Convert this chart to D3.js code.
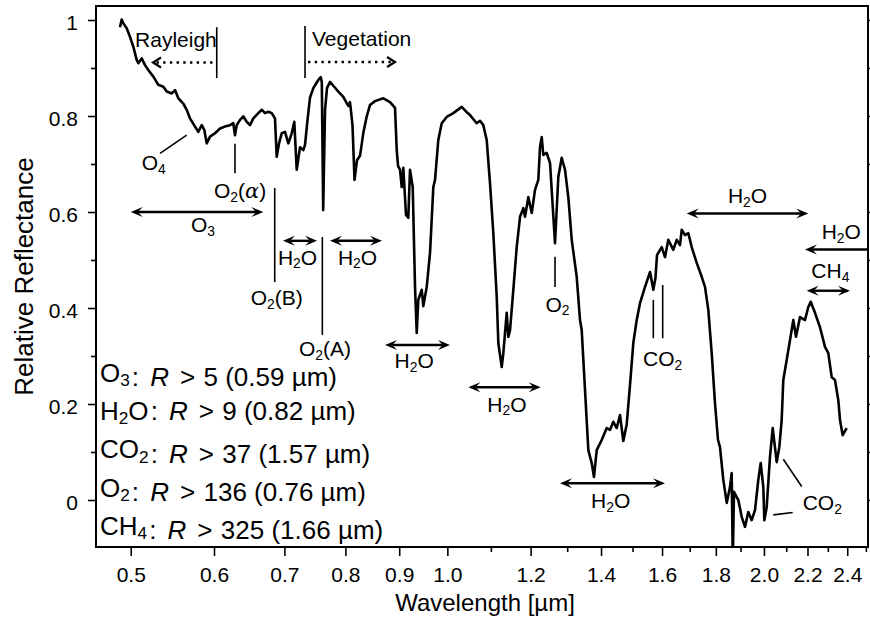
<!DOCTYPE html>
<html>
<head>
<meta charset="utf-8">
<script src="https://cdn.jsdelivr.net/npm/d3@7"></script>
<style>
  body { margin: 0; background: #fff; }
  svg text { font-family: "Liberation Sans", Arial, Helvetica, sans-serif; fill: #000; }
</style>
</head>
<body>
<svg id="chart" width="870" height="623"></svg>
<script>
// Earthshine reflectance spectrum (relative reflectance vs wavelength in µm)
const wavelength = [
  0.4884,0.4902,0.4920,0.4956,0.4992,0.5029,0.5066,0.5084,0.5122,0.5159,
  0.5196,0.5254,0.5311,0.5370,0.5410,0.5470,0.5509,0.5549,0.5610,0.5652,
  0.5693,0.5756,0.5797,0.5841,0.5874,0.5905,0.5948,0.6013,0.6080,0.6146,
  0.6214,0.6259,0.6282,0.6306,0.6352,0.6398,0.6445,0.6492,0.6539,0.6611,
  0.6661,0.6709,0.6757,0.6808,0.6857,0.6883,0.6918,0.6959,0.7009,0.7060,
  0.7113,0.7153,0.7191,0.7243,0.7296,0.7323,0.7363,0.7403,0.7457,0.7539,
  0.7579,0.7597,0.7620,0.7651,0.7684,0.7735,0.7791,0.7877,0.7963,0.8023,
  0.8051,0.8081,0.8125,0.8161,0.8206,0.8260,0.8320,0.8382,0.8443,0.8536,
  0.8692,0.8821,0.8918,0.8951,0.8977,0.9016,0.9050,0.9081,0.9135,0.9181,
  0.9215,0.9270,0.9317,0.9352,0.9384,0.9455,0.9488,0.9559,0.9628,0.9698,
  0.9734,0.9804,0.9878,0.9986,1.0132,1.0320,1.0433,1.0509,1.0664,1.0742,
  1.0819,1.0900,1.0979,1.1059,1.1142,1.1181,1.1264,1.1304,1.1388,1.1428,
  1.1471,1.1554,1.1640,1.1725,1.1810,1.1854,1.1940,1.2029,1.2116,1.2204,
  1.2249,1.2295,1.2338,1.2430,1.2521,1.2658,1.2750,1.2845,1.2938,1.3032,
  1.3130,1.3274,1.3370,1.3420,1.3518,1.3616,1.3717,1.3786,1.3868,1.4021,
  1.4175,1.4278,1.4381,1.4489,1.4594,1.4700,1.4810,1.4917,1.5025,1.5137,
  1.5247,1.5415,1.5585,1.5698,1.5773,1.5825,1.5988,1.6104,1.6221,1.6400,
  1.6522,1.6642,1.6704,1.6825,1.6947,1.7074,1.7262,1.7452,1.7578,1.7706,
  1.7838,1.7967,1.8086,1.8165,1.8297,1.8434,1.8567,1.8636,1.8681,1.8730,
  1.8841,1.8908,1.9049,1.9187,1.9326,1.9470,1.9612,1.9754,1.9858,1.9972,
  2.0016,2.0120,2.0266,2.0386,2.0566,2.0684,2.0792,2.0865,2.1021,2.1173,
  2.1327,2.1453,2.1642,2.1880,2.2039,2.2155,2.2364,2.2610,2.2859,2.3025,
  2.3197,2.3365,2.3535,2.3622,2.3762,2.3972
];
const reflectance = [
  0.985,1.001,0.993,0.983,0.965,0.944,0.917,0.910,0.920,0.906,
  0.896,0.882,0.865,0.861,0.851,0.847,0.854,0.837,0.826,0.813,
  0.795,0.778,0.767,0.781,0.771,0.743,0.757,0.764,0.774,0.778,
  0.781,0.785,0.760,0.781,0.792,0.799,0.788,0.781,0.795,0.806,
  0.813,0.806,0.809,0.806,0.795,0.715,0.743,0.764,0.767,0.743,
  0.764,0.788,0.688,0.735,0.729,0.740,0.792,0.838,0.858,0.875,
  0.881,0.871,0.604,0.813,0.858,0.871,0.863,0.851,0.840,0.827,
  0.821,0.829,0.781,0.667,0.708,0.717,0.765,0.799,0.823,0.831,
  0.837,0.829,0.817,0.729,0.696,0.688,0.652,0.692,0.594,0.588,
  0.688,0.652,0.444,0.348,0.417,0.438,0.404,0.444,0.515,0.652,
  0.667,0.750,0.785,0.798,0.806,0.819,0.808,0.802,0.785,0.790,
  0.781,0.750,0.660,0.556,0.423,0.327,0.277,0.306,0.390,0.340,
  0.354,0.438,0.527,0.590,0.608,0.590,0.631,0.598,0.646,0.667,
  0.735,0.756,0.719,0.723,0.702,0.535,0.673,0.713,0.688,0.631,
  0.542,0.465,0.375,0.354,0.229,0.104,0.077,0.048,0.104,0.125,
  0.150,0.146,0.163,0.150,0.177,0.123,0.158,0.240,0.327,0.375,
  0.410,0.444,0.475,0.438,0.463,0.510,0.527,0.506,0.542,0.521,
  0.542,0.531,0.563,0.552,0.556,0.527,0.494,0.465,0.444,0.396,
  0.306,0.202,0.125,0.110,0.042,-0.006,0.027,0.056,-0.125,0.017,
  0.006,0.000,-0.035,-0.056,-0.025,-0.042,-0.021,0.042,0.077,0.027,
  -0.042,-0.015,0.090,0.150,0.079,0.110,0.167,0.250,0.292,0.333,
  0.375,0.340,0.381,0.375,0.402,0.413,0.390,0.360,0.319,0.306,
  0.256,0.250,0.208,0.167,0.135,0.150
];

// Axis ticks
const xTicks = [0.5,0.6,0.7,0.8,0.9,1.0,1.2,1.4,1.6,1.8,2.0,2.2,2.4];
const xMinorTicks = [1.1,1.3,1.5,1.7,1.9,2.1,2.3,2.5];
const yTicks = [0,0.2,0.4,0.6,0.8,1];
const yMinorTicks = [0.1,0.3,0.5,0.7,0.9];

// Absorption-band arrows: [start µm, end µm, reflectance level, heads]
const bandArrows = [
  [0.5000, 0.6684, 0.600, "both"],
  [0.6978, 0.7518, 0.540, "both"],
  [0.7735, 0.8667, 0.540, "both"],
  [0.8725, 1.0058, 0.323, "both"],
  [1.0470, 1.2268, 0.235, "both"],
  [1.2797, 1.6104, 0.035, "both"],
  [1.6888, 2.2038, 0.597, "both"],
  [2.1961, 2.4144, 0.436, "both"],
  [2.1879, 2.5116, 0.522, "start"]
];

// Dotted trend arrows: [from µm, to µm (arrow tip), reflectance level]
const trendArrows = [
  [0.598, 0.5250, 0.9115],
  [0.7371, 0.8918, 0.9125]
];

// Marker lines: [µm, R, µm, R]
const markerLines = [
  [0.6036, 0.985, 0.6036, 0.879],
  [0.7323, 0.9875, 0.7323, 0.879],
  [0.5652, 0.760, 0.5331, 0.722],
  [0.6282, 0.742, 0.6282, 0.681],
  [0.6853, 0.650, 0.6853, 0.454],
  [0.7606, 0.548, 0.7606, 0.344],
  [1.2658, 0.507, 1.2658, 0.444],
  [1.5698, 0.417, 1.5698, 0.337],
  [1.6023, 0.448, 1.6023, 0.337],
  [2.0865, 0.085, 2.1722, 0.028],
  [2.0414, -0.031, 2.1299, -0.026]
];

// Feature labels: [text, µm, R (baseline), anchor]
const featureLabels = [
  ["Rayleigh",   0.5048, 0.944, "start"],
  ["Vegetation", 0.7436, 0.946, "start"],
  ["O_4",        0.5122, 0.6875, "start"],
  ["O_2(α)",     0.6000, 0.629, "start"],
  ["O_3",        0.5857, 0.558, "middle"],
  ["O_2(B)",     0.6883, 0.406, "middle"],
  ["H_2O",       0.7204, 0.490, "middle"],
  ["O_2(A)",     0.7651, 0.300, "middle"],
  ["H_2O",       0.8215, 0.490, "middle"],
  ["H_2O",       0.9300, 0.275, "middle"],
  ["H_2O",       1.1394, 0.184, "middle"],
  ["O_2",        1.2727, 0.392, "middle"],
  ["H_2O",       1.4299, -0.017, "middle"],
  ["CO_2",       1.6023, 0.279, "middle"],
  ["H_2O",       1.9293, 0.618, "middle"],
  ["H_2O",       2.2695, 0.543, "start"],
  ["CH_4",       2.3127, 0.462, "middle"],
  ["CO_2",       2.1770, -0.021, "start"]
];

// Detectability summary
const legendSpecies = ["O_3", "H_2O", "CO_2", "O_2", "CH_4"];
const legendThreshold = ["5", "9", "37", "136", "325"];
const legendBand = ["0.59", "0.82", "1.57", "0.76", "1.66"];

// ---------------------------------------------------------------
const plot = { left: 96, right: 868, top: 6, bottom: 547 };
const svg = d3.select("#chart");

const x = d3.scaleLog().domain([0.4634, 2.5116]).range([plot.left, plot.right]);
const y = d3.scaleLinear().domain([-0.0979, 1.0292]).range([plot.bottom, plot.top]);

svg.append("defs").append("clipPath").attr("id", "plotClip")
  .append("rect")
  .attr("x", plot.left).attr("y", plot.top)
  .attr("width", plot.right - plot.left).attr("height", plot.bottom - plot.top);

// Formula text with subscripts ("H_2O") and italic Greek letters
function writeFormula(sel, formula, size) {
  const tokens = formula.match(/_\d|[α]|[^_α]+/g);
  let shifted = false;
  const sub = size * 0.17;
  tokens.forEach(tok => {
    const t = sel.append("tspan");
    if (tok[0] === "_") {
      t.text(tok.slice(1)).attr("font-size", size * 0.66);
      if (!shifted) { t.attr("dy", sub); shifted = true; }
    } else {
      t.text(tok);
      if (shifted) { t.attr("dy", -sub); shifted = false; }
      if (tok === "α") t.attr("font-style", "italic").attr("font-family", "'DejaVu Serif', serif");
    }
  });
}

// Axes -----------------------------------------------------------
const tickStroke = 1.6;
const fmtY = d => (d === 0 ? "0" : d === 1 ? "1" : d3.format(".1f")(d));

const gyL = svg.append("g").attr("transform", `translate(${plot.left},0)`)
  .call(d3.axisLeft(y).tickValues(yTicks).tickSize(8).tickFormat(fmtY));
gyL.select(".domain").remove();
gyL.selectAll("line").attr("stroke-width", tickStroke);
gyL.selectAll("text").attr("font-size", 21).attr("x", -18).attr("dy", "0.45em")
  .style("font-family", "'Liberation Sans', Arial, sans-serif");

const gyLm = svg.append("g").attr("transform", `translate(${plot.left},0)`)
  .call(d3.axisLeft(y).tickValues(yMinorTicks).tickSize(5).tickFormat(""));
gyLm.select(".domain").remove();
gyLm.selectAll("line").attr("stroke-width", tickStroke);

const gyR = svg.append("g").attr("transform", `translate(${plot.right},0)`)
  .call(d3.axisRight(y).tickValues(yTicks).tickSize(8).tickFormat(""));
gyR.select(".domain").remove();
gyR.selectAll("line").attr("stroke-width", tickStroke);
const gyRm = svg.append("g").attr("transform", `translate(${plot.right},0)`)
  .call(d3.axisRight(y).tickValues(yMinorTicks).tickSize(5).tickFormat(""));
gyRm.select(".domain").remove();
gyRm.selectAll("line").attr("stroke-width", tickStroke);

const gx = svg.append("g").attr("transform", `translate(0,${plot.bottom})`)
  .call(d3.axisBottom(x).tickValues(xTicks).tickSize(9).tickFormat(d3.format(".1f")));
gx.select(".domain").remove();
gx.selectAll("line").attr("stroke-width", tickStroke);
gx.selectAll("text").attr("font-size", 21).attr("y", 34.5).attr("dy", null)
  .style("font-family", "'Liberation Sans', Arial, sans-serif");

const gxm = svg.append("g").attr("transform", `translate(0,${plot.bottom})`)
  .call(d3.axisBottom(x).tickValues(xMinorTicks).tickSize(5).tickFormat(""));
gxm.select(".domain").remove();
gxm.selectAll("line").attr("stroke-width", tickStroke);

// Axis titles
svg.append("text")
  .attr("transform", `translate(32.5,${(plot.top + plot.bottom) / 2}) rotate(-90)`)
  .attr("text-anchor", "middle").attr("font-size", 26)
  .text("Relative Reflectance");
svg.append("text")
  .attr("x", 485).attr("y", 611)
  .attr("text-anchor", "middle").attr("font-size", 24)
  .text("Wavelength [µm]");

// Spectrum -------------------------------------------------------
const spectrum = wavelength.map((w, i) => [w, reflectance[i]]);
svg.append("path")
  .datum(spectrum)
  .attr("clip-path", "url(#plotClip)")
  .attr("fill", "none").attr("stroke", "#000")
  .attr("stroke-width", 2.6).attr("stroke-linejoin", "round")
  .attr("d", d3.line().x(d => x(d[0])).y(d => y(d[1])));

// Annotations ----------------------------------------------------
const ann = svg.append("g");

ann.selectAll("line.marker").data(markerLines).join("line")
  .attr("class", "marker")
  .attr("x1", d => x(d[0])).attr("y1", d => y(d[1]))
  .attr("x2", d => x(d[2])).attr("y2", d => y(d[3]))
  .attr("stroke", "#000").attr("stroke-width", 1.6);

const headL = 12, headW = 5;
function filledHead(g, tx, ty, dir) {
  g.append("path")
    .attr("d", `M${tx},${ty} L${tx - dir * headL},${ty - headW} L${tx - dir * headL * 0.6},${ty} L${tx - dir * headL},${ty + headW} Z`)
    .attr("fill", "#000");
}
bandArrows.forEach(([a, b, r, heads]) => {
  const x0 = x(a), x1 = Math.min(x(b), plot.right), yy = y(r);
  const startHead = heads === "both" || heads === "start";
  const endHead = heads === "both" || heads === "end";
  ann.append("line")
    .attr("x1", x0 + (startHead ? headL * 0.6 : 0)).attr("x2", x1 - (endHead ? headL * 0.6 : 0))
    .attr("y1", yy).attr("y2", yy)
    .attr("stroke", "#000").attr("stroke-width", 2.4);
  if (startHead) filledHead(ann, x0, yy, -1);
  if (endHead) filledHead(ann, x1, yy, 1);
});

trendArrows.forEach(([from, to, r]) => {
  const x0 = x(from), x1 = x(to), yy = y(r);
  const dir = Math.sign(x1 - x0);
  ann.append("line")
    .attr("x1", x0).attr("x2", x1 - dir * 3).attr("y1", yy).attr("y2", yy)
    .attr("stroke", "#000").attr("stroke-width", 2.4)
    .attr("stroke-dasharray", "2.4 4.3");
  ann.append("path")
    .attr("d", `M${x1 - dir * 8},${yy - 5} L${x1},${yy} L${x1 - dir * 8},${yy + 5}`)
    .attr("fill", "none").attr("stroke", "#000").attr("stroke-width", 2.2);
});

featureLabels.forEach(([txt, w, r, anchor]) => {
  const t = ann.append("text")
    .attr("x", x(w)).attr("y", y(r))
    .attr("text-anchor", anchor).attr("font-size", 21);
  writeFormula(t, txt, 21);
});

// Detectability summary ------------------------------------------
const legendSize = 26;
const legendBaseline0 = 381.7, legendStep = 38.3;
legendSpecies.forEach((sp, i) => {
  const t = svg.append("text")
    .attr("x", 100).attr("y", legendBaseline0 + i * legendStep)
    .attr("font-size", legendSize);
  writeFormula(t, sp, legendSize);
  t.append("tspan").attr("dx", legendSize * 0.08).text(":");
  t.append("tspan").attr("dx", legendSize * 0.43)
    .attr("font-style", "italic").text("R");
  t.append("tspan").attr("dx", legendSize * 0.42).text(">");
  t.append("tspan").attr("dx", legendSize * 0.32)
    .text(`${legendThreshold[i]} (${legendBand[i]} µm)`);
});

// Frame
svg.append("rect")
  .attr("x", plot.left).attr("y", plot.top)
  .attr("width", plot.right - plot.left).attr("height", plot.bottom - plot.top)
  .attr("fill", "none").attr("stroke", "#000").attr("stroke-width", 2);
</script>
</body>
</html>
